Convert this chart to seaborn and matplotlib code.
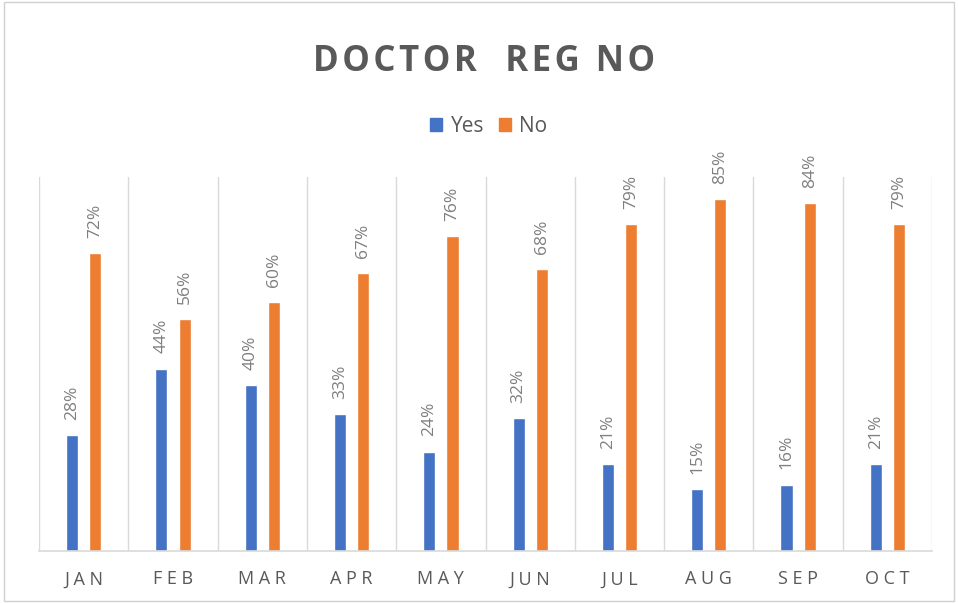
import numpy as np
import pandas as pd
import seaborn as sns
from matplotlib import pyplot as plt
from matplotlib.patches import Rectangle

# chart data
months = ['JAN', 'FEB', 'MAR', 'APR', 'MAY', 'JUN', 'JUL', 'AUG', 'SEP', 'OCT']
yes_vals = [0.28, 0.44, 0.40, 0.33, 0.24, 0.32, 0.21, 0.15, 0.16, 0.21]
no_vals = [0.72, 0.56, 0.60, 0.67, 0.76, 0.68, 0.79, 0.85, 0.84, 0.79]
series = ['Yes', 'No']
colors = ['#4472C4', '#ED7D31']
title = 'DOCTOR  REG NO'

sns.set_style('white')
plt.rcParams['font.family'] = ['Open Sans', 'DejaVu Sans']

df = pd.DataFrame({
    'month': months * 2,
    'value': yes_vals + no_vals,
    'series': ['Yes'] * len(months) + ['No'] * len(months),
})

fig = plt.figure(figsize=(9.58, 6.03), dpi=100)
ax = fig.add_axes([0.0407, 0.0862, 0.9322, 0.6203])

sns.barplot(data=df, x='month', y='value', hue='series', hue_order=series,
            palette=colors, width=0.52, gap=0.48, saturation=1, ax=ax,
            legend=False)

ax.set_ylim(0, 0.903)
ax.set_xlim(-0.5, len(months) - 0.5)

# value labels
for cont in ax.containers:
    for bar in cont:
        h = bar.get_height()
        ax.annotate(f'{h:.0%}', (bar.get_x() + bar.get_width() / 2, h),
                    xytext=(0, 11), textcoords='offset points',
                    rotation=90, ha='center', va='bottom',
                    fontsize=12.5, color='#7f7f7f')

# vertical separators between categories
for i in range(len(months) + 1):
    ax.axvline(i - 0.5, color='#d9d9d9', lw=1, zorder=0)

for s in ['top', 'left', 'right']:
    ax.spines[s].set_visible(False)
ax.spines['bottom'].set_color('#d9d9d9')
ax.spines['bottom'].set_linewidth(1.2)

ax.set_yticks([])
ax.set_xlabel('')
ax.set_ylabel('')
ax.set_xticks(range(len(months)))
ax.set_xticklabels([' '.join(m) for m in months], fontsize=13, color='#595959')
ax.tick_params(axis='x', length=0, pad=14)

# title with a little letter spacing, as in the original
fig.text(0.505, 0.897, '\u200a'.join(title), ha='center', va='center', fontsize=25,
         fontweight='bold', color='#595959')

handles = [Rectangle((0, 0), 1, 1, color=c) for c in colors]
fig.legend(handles, series, loc='center', bbox_to_anchor=(0.51, 0.791),
           ncol=2, frameon=False, fontsize=15, handlelength=0.58,
           handleheight=0.58, handletextpad=0.4, columnspacing=0.7,
           labelcolor='#595959')

fig.patches.append(Rectangle((0.004, 0.004), 0.992, 0.992, transform=fig.transFigure,
                             fill=False, edgecolor='#d0d0d0', lw=1))

fig.savefig('out.png', dpi=100)
